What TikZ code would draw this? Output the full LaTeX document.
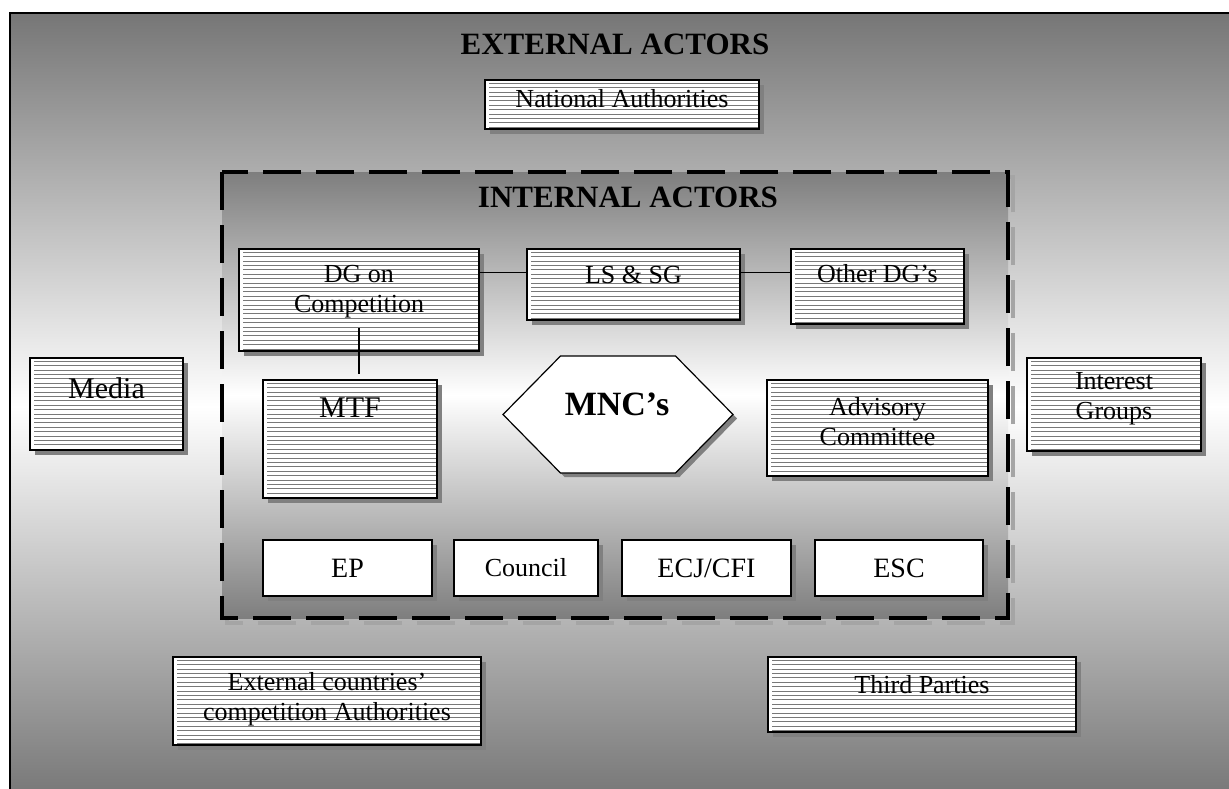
\documentclass[tikz,border=0pt]{standalone}
\usepackage{fontspec}
\setmainfont{Liberation Serif}
\usetikzlibrary{shadows,calc}
\definecolor{bgdark}{RGB}{118,118,118}
\definecolor{indark}{RGB}{126,126,126}
\definecolor{shadowgray}{RGB}{128,128,128}
\definecolor{stripegray}{RGB}{120,120,120}
\definecolor{dashshadow}{RGB}{165,165,165}
\tikzset{
  boxshadow/.style={drop shadow={shadow xshift=5pt,shadow yshift=-5pt,fill=shadowgray,opacity=1}},
  plainbox/.style={draw=black,line width=1.6pt,fill=white,inner sep=0pt,boxshadow},
  stripebox/.style={plainbox,
    path picture={
      \foreach \k in {1,...,50}{
        \draw[stripegray,line width=0.8pt]
          ([xshift=4pt,yshift=-\k*4.4pt+1.2pt]path picture bounding box.north west) --
          ([xshift=-1pt,yshift=-\k*4.4pt+1.2pt]path picture bounding box.north east);
      }
    }},
  txt/.style={font=\fontsize{26}{30}\selectfont,align=center,inner sep=0pt},
  captxt/.style={font=\fontsize{28}{32}\selectfont,align=center,inner sep=0pt},
  bigtxt/.style={font=\fontsize{30}{34}\selectfont,align=center,inner sep=0pt},
  titletxt/.style={font=\bfseries\fontsize{31}{35}\selectfont,inner sep=0pt},
  connector/.style={draw=black,line width=1.2pt},
  innerframe/.style={line width=4pt,dash pattern=on 38pt off 15pt},
}
\begin{document}
\begin{tikzpicture}[x=1pt,y=-1pt]
  \useasboundingbox (0,0) rectangle (1229,788);
  \fill[white] (0,0) rectangle (1229,788);

  % outer area of external actors
  \shade[top color=bgdark,bottom color=bgdark,middle color=white] (10,13) rectangle (1240,800);
  \draw[line width=2pt] (1240,13) -- (10,13) -- (10,800);
  \node[titletxt] (ext) at (615,44) {EXTERNAL ACTORS};

  % dashed frame of internal actors
  \coordinate (inNW) at (222,172);
  \coordinate (inSE) at (1008,618);
  \draw[innerframe,dashshadow] ($(inNW)+(5,5)$) rectangle ($(inSE)+(5,5)$);
  \shade[top color=indark,bottom color=indark,middle color=white] (inNW) rectangle (inSE);
  \draw[innerframe,black] (inNW) rectangle (inSE);
  \node[titletxt] (int) at (628,197) {INTERNAL ACTORS};

  % external actors
  \node[stripebox,minimum width=274pt,minimum height=49pt,
        label={[txt,anchor=center,yshift=6pt]center:National Authorities}] (nat) at (622,104.5) {};
  \node[stripebox,minimum width=153pt,minimum height=92pt,
        label={[bigtxt,anchor=center,yshift=16pt]center:Media}] (media) at (106.5,404) {};
  \node[stripebox,minimum width=174pt,minimum height=93pt,
        label={[txt,anchor=center,yshift=5.5pt]center:{Interest\\Groups}}] (interest) at (1114,404.5) {};
  \node[stripebox,minimum width=308pt,minimum height=88pt,
        label={[txt,anchor=center,yshift=2pt]center:{External countries’\\competition Authorities}}] (extc) at (327,701) {};
  \node[stripebox,minimum width=308pt,minimum height=75pt,
        label={[txt,anchor=center,yshift=9.5pt]center:Third Parties}] (third) at (922,694.5) {};

  % internal actors
  \node[stripebox,minimum width=240pt,minimum height=102pt,
        label={[txt,anchor=center,yshift=8.5pt]center:{DG on\\Competition}}] (dg) at (359,300) {};
  \node[stripebox,minimum width=213pt,minimum height=71pt,
        label={[txt,anchor=center,yshift=9.5pt]center:LS \& SG}] (lssg) at (633.5,284.5) {};
  \node[stripebox,minimum width=173pt,minimum height=75pt,
        label={[txt,anchor=center,yshift=12.5pt]center:Other DG’s}] (other) at (877.5,286.5) {};
  \node[stripebox,minimum width=174pt,minimum height=118pt,
        label={[bigtxt,anchor=center,yshift=31pt]center:MTF}] (mtf) at (350,439) {};
  \node[stripebox,minimum width=221pt,minimum height=96pt,
        label={[txt,anchor=center,yshift=6pt]center:{Advisory\\Committee}}] (adv) at (877.5,428) {};

  % MNC hexagon
  \coordinate (hexc) at (618,414.5);
  \fill[shadowgray,shift={($(hexc)+(4,4)$)}]
    (-115,0) -- (-57.5,-58.5) -- (57.5,-58.5) -- (115,0) -- (57.5,58.5) -- (-57.5,58.5) -- cycle;
  \draw[fill=white,line width=1.2pt,shift={(hexc)}]
    (-115,0) -- (-57.5,-58.5) -- (57.5,-58.5) -- (115,0) -- (57.5,58.5) -- (-57.5,58.5) -- cycle;
  \node[font=\bfseries\fontsize{34}{38}\selectfont,inner sep=0pt] (mnc) at (617,404) {MNC’s};

  % institutions
  \node[plainbox,captxt,minimum width=169pt,minimum height=56pt] (ep) at (347.5,568) {EP};
  \node[plainbox,txt,minimum width=144pt,minimum height=56pt] (council) at (526,568) {Council};
  \node[plainbox,captxt,minimum width=169pt,minimum height=56pt] (ecj) at (706.5,568) {ECJ/CFI};
  \node[plainbox,captxt,minimum width=168pt,minimum height=56pt] (esc) at (899,568) {ESC};

  % connectors
  \draw[connector] ([yshift=-24pt]dg.north east) -- ([yshift=-24pt]lssg.north west);
  \draw[connector] ([yshift=-24pt]lssg.north east) -- ([yshift=-24pt]other.north west);
  \draw[connector] ([yshift=24pt]dg.south) -- ($(dg.south |- mtf.north)+(0,-5)$);
\end{tikzpicture}
\end{document}
